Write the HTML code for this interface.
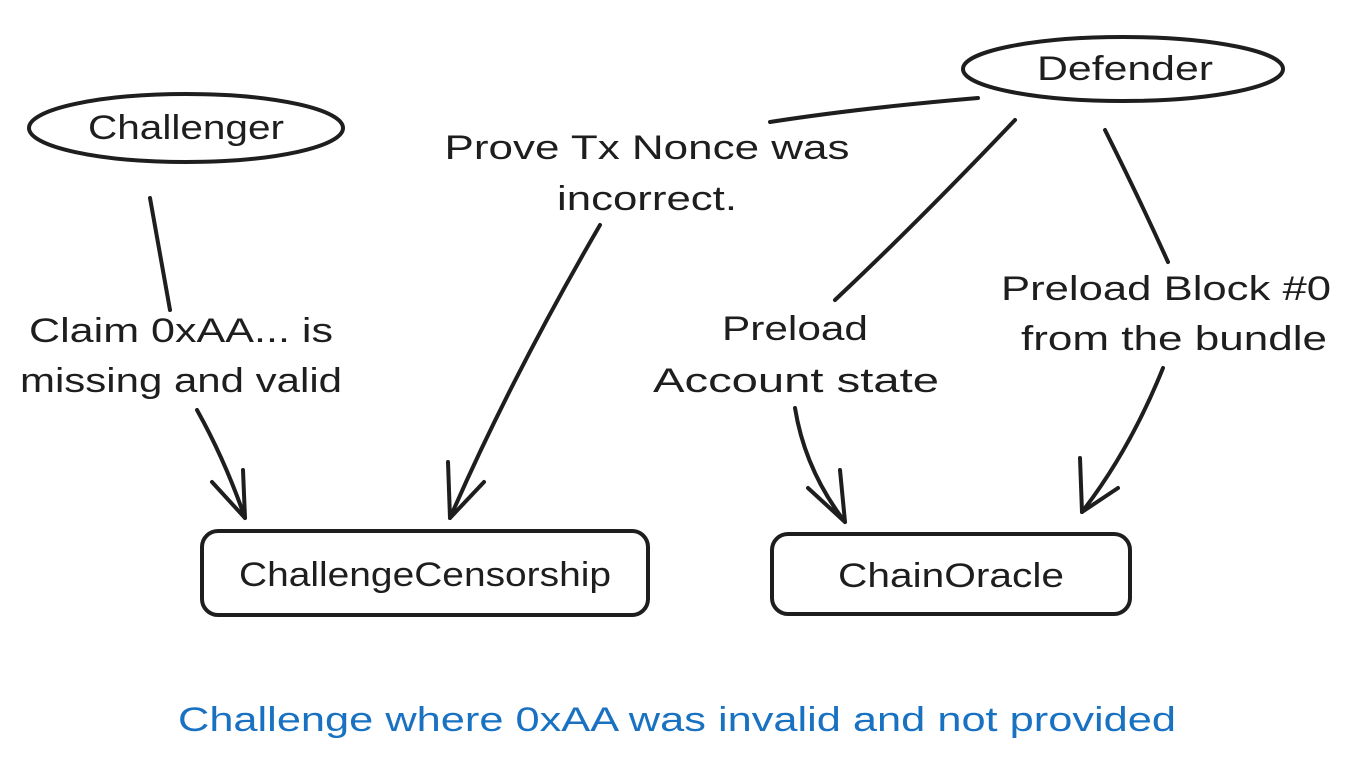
<!DOCTYPE html>
<html><head><meta charset="utf-8"><style>
html,body{margin:0;padding:0;background:#fff;width:1369px;height:765px;overflow:hidden}
svg text{font-family:"Liberation Sans",sans-serif;font-size:34px;fill:#1e1e1e}
</style></head><body>
<svg width="1369" height="765" viewBox="0 0 1369 765" xmlns="http://www.w3.org/2000/svg">
<g fill="none" stroke="#1e1e1e" stroke-width="4" stroke-linecap="round" stroke-linejoin="round">
<ellipse cx="186" cy="128" rx="157" ry="34"/>
<ellipse cx="1123" cy="69" rx="160" ry="32"/>
<rect x="202" y="531" width="446" height="84" rx="16"/>
<rect x="772" y="534" width="358" height="80" rx="16"/>
<!-- challenger arrow -->
<path d="M150 198 L170 310"/>
<path d="M197 410 Q225 460 245 518"/>
<path d="M212 482 L245 518 L243 470"/>
<!-- prove arrow -->
<path d="M978 98 Q860 108 770 122"/>
<path d="M600 225 Q510 380 450 518"/>
<path d="M448 462 L450 518 L484 482"/>
<!-- preload account -->
<path d="M1015 120 Q920 220 835 300"/>
<path d="M795 408 Q805 470 845 522"/>
<path d="M808 488 L845 522 L840 470"/>
<!-- preload block -->
<path d="M1105 130 Q1140 200 1168 262"/>
<path d="M1163 368 Q1130 450 1082 512"/>
<path d="M1080 458 L1082 512 L1118 488"/>
</g>
<text x="186" y="139" text-anchor="middle" textLength="196" lengthAdjust="spacingAndGlyphs">Challenger</text>
<text x="1125" y="80" text-anchor="middle" textLength="176" lengthAdjust="spacingAndGlyphs">Defender</text>
<text x="425" y="586" text-anchor="middle" textLength="372" lengthAdjust="spacingAndGlyphs">ChallengeCensorship</text>
<text x="951" y="587" text-anchor="middle" textLength="226" lengthAdjust="spacingAndGlyphs">ChainOracle</text>
<text x="647" y="159" text-anchor="middle" textLength="405" lengthAdjust="spacingAndGlyphs">Prove Tx Nonce was</text>
<text x="647" y="210" text-anchor="middle" textLength="180" lengthAdjust="spacingAndGlyphs">incorrect.</text>
<text x="181" y="342" text-anchor="middle" textLength="304" lengthAdjust="spacingAndGlyphs">Claim 0xAA... is</text>
<text x="181" y="392" text-anchor="middle" textLength="322" lengthAdjust="spacingAndGlyphs">missing and valid</text>
<text x="795" y="340" text-anchor="middle" textLength="146" lengthAdjust="spacingAndGlyphs">Preload</text>
<text x="796" y="392" text-anchor="middle" textLength="286" lengthAdjust="spacingAndGlyphs">Account state</text>
<text x="1166" y="300" text-anchor="middle" textLength="330" lengthAdjust="spacingAndGlyphs">Preload Block #0</text>
<text x="1174" y="350" text-anchor="middle" textLength="306" lengthAdjust="spacingAndGlyphs">from the bundle</text>
<text x="677" y="731" text-anchor="middle" textLength="998" lengthAdjust="spacingAndGlyphs" style="fill:#1971c2">Challenge where 0xAA was invalid and not provided</text>
</svg>
</body></html>
